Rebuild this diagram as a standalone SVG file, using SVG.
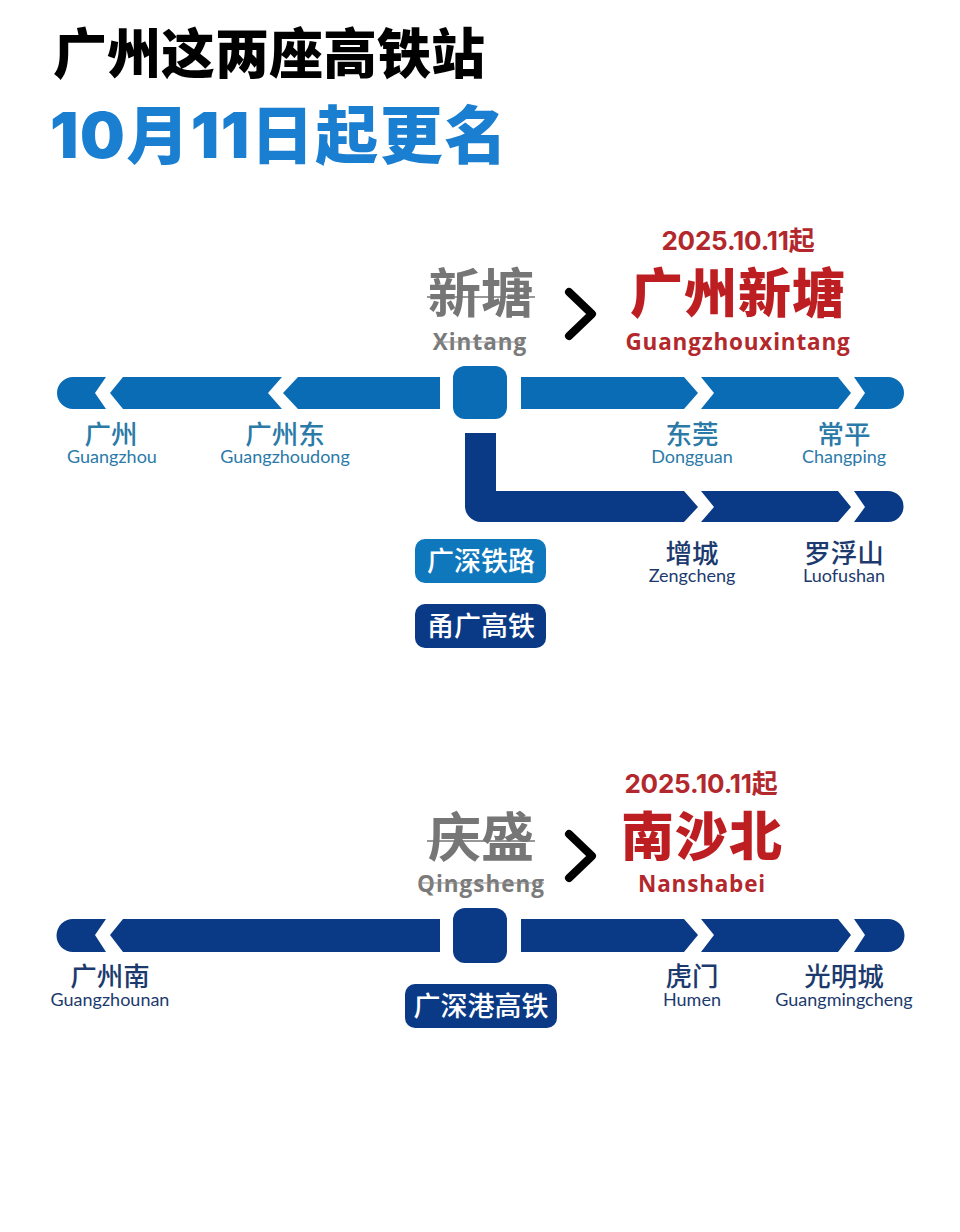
<svg xmlns="http://www.w3.org/2000/svg" width="960" height="1232" viewBox="0 0 960 1232">
<style>
text{font-family:"Noto Sans CJK SC","Noto Sans",sans-serif;text-anchor:middle}
.en{font-family:"Lato","Open Sans",sans-serif}
.t{font-weight:900;text-anchor:start}
.old{font-weight:700;font-size:53px;fill:#767676}
.olde{font-weight:700;font-size:22.500px;fill:#7a7a7a;letter-spacing:1px;font-family:"Open Sans",sans-serif}
.new{font-weight:900;font-size:53px;fill:#bd1e22}
.newe{font-weight:700;font-size:22.500px;fill:#b3282c;letter-spacing:.8px;font-family:"Open Sans",sans-serif}
.date{font-weight:700;font-size:26px;fill:#b3282c;letter-spacing:-.2px;font-family:"Inter","Noto Sans CJK SC",sans-serif}
.zh{font-size:26.500px;font-weight:500}
.py{font-size:18px}
.a{fill:#0a6cb5}.b{fill:#0a3a86}
.ta{fill:#2b7aa8}.tb{fill:#1c3a6e}
.tag{font-size:27px;font-weight:500;fill:#fff}
.sl{stroke:#767676;stroke-width:1.500;fill:none}
.sl2{stroke:#8a8a8a;stroke-width:1;fill:none}
.chev{fill:none;stroke:#000;stroke-width:8;stroke-linecap:round;stroke-linejoin:round}
</style>
<rect width="960" height="1232" fill="#fff"/>
<g id="title">
<text class="t" x="53" y="74" fill="#000" style="font-size:54px">广州这两座高铁站</text>
<text class="t" x="50" y="158" fill="#1a7fd0" style="font-size:63px;font-family:'Inter','Noto Sans CJK SC',sans-serif;letter-spacing:1.500px">10月11日起更名</text>
</g>
<g id="connectors">
<path class="a" d="M106 377H73a16 16 0 0 0 0 32H106L95 393Z"/>
<path class="a" d="M123 377H282L268 393L282 409H123L110 393Z"/>
<path class="a" d="M298 377H440V409H298L283 393Z"/>
<path class="a" d="M521 377H684L698 393L684 409H521Z"/>
<path class="a" d="M701 377H838L851 393L838 409H701L714 393Z"/>
<path class="a" d="M854 377H888a16 16 0 0 1 0 32H854L865 393Z"/>
<path class="b" d="M465 433H496V491H684L698 507L684 522H481a16 16 0 0 1 -16 -16Z"/>
<path class="b" d="M701 491H838L851 507L838 522H701L714 507Z"/>
<path class="b" d="M854 491H888a15.500 15.500 0 0 1 0 31H854L865 507Z"/>
<path class="b" d="M106 919H73a16.500 16.500 0 0 0 0 33H106L95 935Z"/>
<path class="b" d="M123 919H440V952H123L110 935Z"/>
<path class="b" d="M521 919H684L698 935L684 952H521Z"/>
<path class="b" d="M701 919H838L851 935L838 952H701L714 935Z"/>
<path class="b" d="M854 919H888a16.500 16.500 0 0 1 0 33H854L865 935Z"/>
<path class="chev" d="M569 292L592 314L569 336"/>
<path class="chev" d="M569 834L592 856L569 878"/>
</g>
<g id="node-xintang">
<rect class="a" x="453" y="366" width="54" height="53" rx="12"/>
<text class="old" x="481" y="313">新塘</text>
<text class="olde" x="480" y="350">Xintang</text>
<path class="sl" d="M427 297H535"/><path class="sl2" d="M436 342H525"/>
</g>
<g id="node-guangzhouxintang">
<text class="date" x="738" y="250">2025.10.11起</text>
<text class="new" x="738" y="313" style="letter-spacing:1px">广州新塘</text>
<text class="newe" x="738" y="350">Guangzhouxintang</text>
</g>
<g id="station-guangzhou"><text class="zh ta" x="111" y="444">广州</text><text class="py ta en" x="112" y="463">Guangzhou</text></g>
<g id="station-guangzhoudong"><text class="zh ta" x="285" y="444">广州东</text><text class="py ta en" x="285" y="463">Guangzhoudong</text></g>
<g id="station-dongguan"><text class="zh ta" x="692" y="444">东莞</text><text class="py ta en" x="692" y="463">Dongguan</text></g>
<g id="station-changping"><text class="zh ta" x="844" y="444">常平</text><text class="py ta en" x="844" y="463">Changping</text></g>
<g id="station-zengcheng"><text class="zh tb" x="692" y="563">增城</text><text class="py tb en" x="692" y="582">Zengcheng</text></g>
<g id="station-luofushan"><text class="zh tb" x="844" y="563">罗浮山</text><text class="py tb en" x="844" y="582">Luofushan</text></g>
<g id="tag-guangshen"><rect fill="#0f78bd" x="415" y="539" width="131" height="44" rx="10"/><text class="tag" x="481" y="571">广深铁路</text></g>
<g id="tag-yongguang"><rect class="b" x="415" y="604" width="131" height="44" rx="10"/><text class="tag" x="481" y="636">甬广高铁</text></g>
<g id="node-qingsheng">
<rect class="b" x="453" y="908" width="54" height="55" rx="12"/>
<text class="old" x="481" y="857">庆盛</text>
<text class="olde" x="481" y="892">Qingsheng</text>
<path class="sl" d="M427 841H535"/><path class="sl2" d="M419 883H544"/>
</g>
<g id="node-nanshabei">
<text class="date" x="701" y="793">2025.10.11起</text>
<text class="new" x="702" y="856" style="letter-spacing:1px">南沙北</text>
<text class="newe" x="702" y="892">Nanshabei</text>
</g>
<g id="station-guangzhounan"><text class="zh tb" x="110" y="986">广州南</text><text class="py tb en" x="110" y="1006">Guangzhounan</text></g>
<g id="station-humen"><text class="zh tb" x="692" y="986">虎门</text><text class="py tb en" x="692" y="1006">Humen</text></g>
<g id="station-guangmingcheng"><text class="zh tb" x="844" y="986">光明城</text><text class="py tb en" x="844" y="1006">Guangmingcheng</text></g>
<g id="tag-guangshengang"><rect class="b" x="405" y="984" width="152" height="44" rx="10"/><text class="tag" x="481" y="1016">广深港高铁</text></g>
</svg>
